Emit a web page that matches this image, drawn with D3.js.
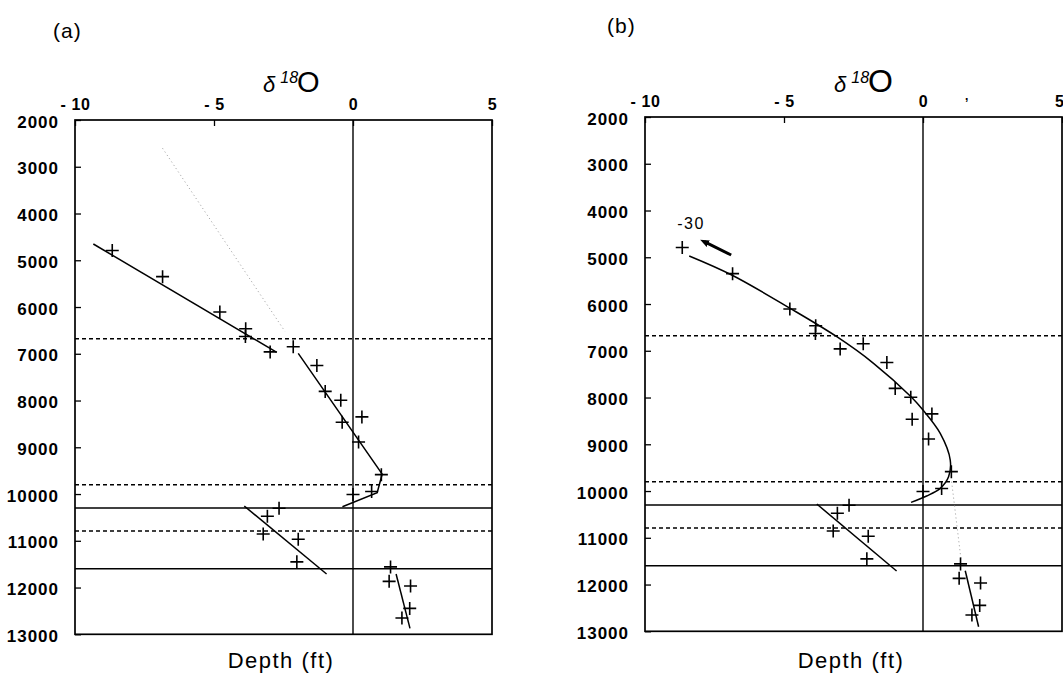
<!DOCTYPE html>
<html><head><meta charset="utf-8">
<script src="https://cdn.jsdelivr.net/npm/d3@7"></script>
<style>
html,body{margin:0;padding:0;background:#fff;}
svg{display:block;font-family:"Liberation Sans",Arial,sans-serif;}
</style></head>
<body><svg id="chart" width="1063" height="676"></svg>
<script>
// ---- data ----
const depthTicks = [2000,3000,4000,5000,6000,7000,8000,9000,10000,11000,12000,13000];
const d18OTicks = [-10,-5,0,5];
const sampleDepth = [4790,5350,6105,6465,6630,6960,6850,7250,7805,7995,8350,8466,8888,9585,9945,10010,10303,10474,10855,10968,11450,11558,11868,11968,12446,12652];
const sampleD18O  = [-8.66,-6.85,-4.79,-3.86,-3.87,-2.98,-2.15,-1.30,-1.00,-0.44,0.32,-0.39,0.20,1.02,0.67,0.00,-2.66,-3.08,-3.23,-1.97,-2.02,1.35,1.30,2.07,2.04,1.76];
const dashedBoundaries = [6680, 9800, 10790];
const solidBoundaries = [10300, 11600];
// fitted trends [d18O, depth]
const fitA_upper  = [[-9.34,4652],[-2.74,6969]];
const fitA_middle = [[-1.97,6990],[1.05,9572],[0.87,9972],[-0.38,10272]];
const fitA_lower  = [[-3.91,10257],[-0.95,11711]];
const fitA_deep   = [[1.55,11711],[2.05,12873]];
const trendA_grey = [[-6.85,2605],[-2.45,6520]];
const fitB_curve  = [[-8.41,4973],[-6.88,5380],[-4.78,6092],[-3.10,6700],[-1.78,7268],[-0.43,7983],[0.00,8267],[0.62,8766],[0.98,9337],[0.92,9694],[0.62,9942],[0.13,10107],[-0.43,10242]];
const fitB_lower  = [[-3.82,10278],[-0.95,11711]];
const fitB_deep   = [[1.52,11705],[2.00,12903]];
const trendB_grey = [[1.03,9801],[1.37,11476]];
const annotText = "-30";
const annotPos = [-8.84, 4385];
const annotArrow = [[-6.90,4952],[-7.87,4667]];

const samples = sampleDepth.map((d,i)=>({depth:d, v:sampleD18O[i]}));
const svg = d3.select("#chart");

svg.append("defs").append("marker")
  .attr("id","arrowhead").attr("viewBox","0 0 10 10").attr("refX",5).attr("refY",5)
  .attr("markerWidth",3).attr("markerHeight",3).attr("orient","auto")
  .append("path").attr("d","M0,1L10,5L0,9Z").attr("fill","#000");

function drawPanel(o){
  const x = d3.scaleLinear().domain([-10,5]).range([o.left,o.right]);
  const y = d3.scaleLinear().domain([2000,13000]).range([o.top,o.bottom]);
  const g = svg.append("g");
  const line = d3.line().x(d=>x(d[0])).y(d=>y(d[1]));

  // panel letter
  g.append("text").attr("x",o.letterX).attr("y",o.letterY)
    .attr("font-size",21).attr("letter-spacing",1).text(o.letter);

  // title delta 18 O
  const t = g.append("text").attr("x",o.titleX).attr("y",92);
  t.append("tspan").attr("font-style","italic").attr("font-size",22).text("δ");
  t.append("tspan").attr("font-style","italic").attr("font-size",16).attr("dx",5).attr("dy",-9).text("18");
  t.append("tspan").attr("font-size",o.oSize).attr("dx",-1).attr("dy",9).text("O");

  // axes
  const ya = d3.axisLeft(y).tickValues(depthTicks).tickSizeInner(-6).tickSizeOuter(0).tickPadding(16).tickFormat(d=>d);
  const yg = g.append("g").attr("transform",`translate(${o.left},0)`).call(ya);
  yg.select(".domain").remove();
  yg.selectAll("line").attr("stroke","#000").attr("stroke-width",1.3);
  yg.selectAll("text").attr("font-size",17).attr("font-weight","bold").attr("letter-spacing",1)
    .attr("fill","#000").attr("font-family","'Liberation Sans',Arial,sans-serif").attr("dy","0.42em");

  const xa = d3.axisTop(x).tickValues(d18OTicks).tickSizeInner(-6).tickSizeOuter(0).tickPadding(10)
    .tickFormat(d=> d<0 ? "- "+Math.abs(d) : String(d));
  const xg = g.append("g").attr("transform",`translate(0,${o.top})`).call(xa);
  xg.select(".domain").remove();
  xg.selectAll("line").attr("stroke","#000").attr("stroke-width",1.3);
  xg.selectAll("text").attr("font-size",16).attr("font-weight","bold").attr("letter-spacing",0.6)
    .attr("fill","#000").attr("font-family","'Liberation Sans',Arial,sans-serif")
    .attr("text-anchor", d=> (x(d) > 1050 ? "end" : "middle"))
    .attr("dx", d=> (x(d) > 1050 ? 2 : 0));

  // frame
  g.append("rect").attr("x",o.left).attr("y",o.top).attr("width",o.right-o.left).attr("height",o.bottom-o.top)
    .attr("fill","none").attr("stroke","#000").attr("stroke-width",1.7);
  // zero line
  g.append("line").attr("x1",x(0)).attr("x2",x(0)).attr("y1",o.top).attr("y2",o.bottom)
    .attr("stroke","#000").attr("stroke-width",1.4);

  // boundaries
  g.selectAll(".dash").data(dashedBoundaries).enter().append("line")
    .attr("x1",o.left).attr("x2",o.right).attr("y1",d=>y(d)).attr("y2",d=>y(d))
    .attr("stroke","#000").attr("stroke-width",1.5).attr("stroke-dasharray","4,3");
  g.selectAll(".solid").data(solidBoundaries).enter().append("line")
    .attr("x1",o.left).attr("x2",o.right).attr("y1",d=>y(d)).attr("y2",d=>y(d))
    .attr("stroke","#000").attr("stroke-width",1.5);

  // grey trend
  g.append("path").attr("d",line(o.grey)).attr("fill","none").attr("stroke","#999")
    .attr("stroke-width",1).attr("stroke-dasharray","1,3");

  // fits
  o.fits.forEach(f=>{
    g.append("path").attr("d", f.curve ? d3.line().x(d=>x(d[0])).y(d=>y(d[1])).curve(d3.curveCatmullRom)(f.pts) : line(f.pts))
      .attr("fill","none").attr("stroke","#000").attr("stroke-width",1.5);
  });

  // samples
  g.selectAll(".pt").data(samples).enter().append("path")
    .attr("transform",d=>`translate(${x(d.v)},${y(d.depth)})`)
    .attr("d","M-6.5,0H6.5M0,-6.5V6.5").attr("stroke","#000").attr("stroke-width",1.6).attr("fill","none");

  // depth label
  g.append("text").attr("x",o.depthLabelX).attr("y",668).attr("text-anchor","middle")
    .attr("font-size",22).attr("letter-spacing",1.5).text("Depth (ft)");

  if (o.annot){
    g.append("text").attr("x",x(annotPos[0])).attr("y",y(annotPos[1])).attr("font-size",16)
      .attr("letter-spacing",1.5).text(annotText);
    g.append("path").attr("d",line(annotArrow)).attr("stroke","#000").attr("stroke-width",3)
      .attr("fill","none").attr("marker-end","url(#arrowhead)");
    g.append("text").attr("x",965).attr("y",100).attr("font-size",12).attr("font-weight","bold").text(",");
  }
}

drawPanel({left:75,right:492,top:120,bottom:634.3,letter:"(a)",letterX:53,letterY:38,titleX:263,oSize:29,
  depthLabelX:281,grey:trendA_grey,
  fits:[{pts:fitA_upper},{pts:fitA_middle},{pts:fitA_lower},{pts:fitA_deep}]});
drawPanel({left:645,right:1062,top:117,bottom:631.3,letter:"(b)",letterX:607,letterY:33,titleX:834,oSize:32,
  depthLabelX:851,grey:trendB_grey,annot:true,
  fits:[{pts:fitB_curve,curve:true},{pts:fitB_lower},{pts:fitB_deep}]});
</script></body></html>
